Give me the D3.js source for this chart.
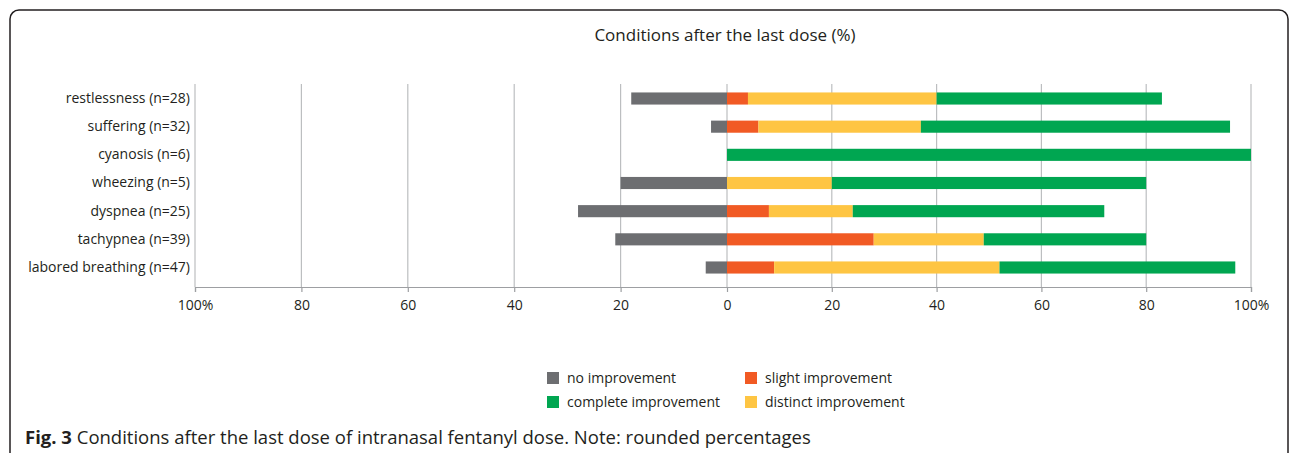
<!DOCTYPE html>
<html>
<head>
<meta charset="utf-8">
<script src="https://cdn.jsdelivr.net/npm/d3@7"></script>
<style>
  body { margin: 0; background: #fff; }
  text { font-family: "Open Sans", sans-serif; fill: #231f20; }
</style>
</head>
<body>
<svg id="chart" width="1290" height="453"></svg>
<script>
const categories = ['restlessness (n=28)', 'suffering (n=32)', 'cyanosis (n=6)', 'wheezing (n=5)',
  'dyspnea (n=25)', 'tachypnea (n=39)', 'labored breathing (n=47)'];
const noImprovement = [18, 3, 0, 20, 28, 21, 4];
const slightImprovement = [4, 6, 0, 0, 8, 28, 9];
const distinctImprovement = [36, 31, 0, 20, 16, 21, 43];
const completeImprovement = [43, 59, 100, 60, 48, 31, 45];
const tickValues = [-100, -80, -60, -40, -20, 0, 20, 40, 60, 80, 100];
const tickLabels = ['100%', '80', '60', '40', '20', '0', '20', '40', '60', '80', '100%'];

const colors = {
  no: '#6d6e71', slight: '#f15a24', distinct: '#fec543', complete: '#00a651'
};

const svg = d3.select('#chart');

// frame
svg.append('rect')
  .attr('x', 10).attr('y', 10)
  .attr('width', 1278).attr('height', 470)
  .attr('rx', 9)
  .attr('fill', 'none')
  .attr('stroke', '#231f20')
  .attr('stroke-width', 1.5);

const x = d3.scaleLinear()
  .domain([-100, 0, 100])
  .range([195, 727, 1251]);

const y = d3.scaleBand()
  .domain(categories)
  .range([84, 282])
  .paddingInner(0.57)
  .paddingOuter(0.3);

// gridlines
svg.append('g')
  .selectAll('line')
  .data(tickValues)
  .join('line')
  .attr('x1', d => x(d)).attr('x2', d => x(d))
  .attr('y1', 84).attr('y2', 287)
  .attr('stroke', '#bcbec0')
  .attr('stroke-width', 1.2);

// stacked bars
const rows = categories.map((c, i) => ({
  cat: c,
  segs: [
    {key: 'no', x0: -noImprovement[i], x1: 0},
    {key: 'slight', x0: 0, x1: slightImprovement[i]},
    {key: 'distinct', x0: slightImprovement[i], x1: slightImprovement[i] + distinctImprovement[i]},
    {key: 'complete', x0: slightImprovement[i] + distinctImprovement[i],
      x1: slightImprovement[i] + distinctImprovement[i] + completeImprovement[i]}
  ]
}));

svg.append('g')
  .selectAll('g')
  .data(rows)
  .join('g')
  .selectAll('rect')
  .data(d => d.segs.filter(s => s.x1 > s.x0).map(s => ({...s, cat: d.cat})))
  .join('rect')
  .attr('x', d => x(d.x0))
  .attr('width', d => x(d.x1) - x(d.x0))
  .attr('y', d => y(d.cat))
  .attr('height', y.bandwidth())
  .attr('fill', d => colors[d.key]);

// x axis
const xAxis = d3.axisBottom(x)
  .tickValues(tickValues)
  .tickFormat((d, i) => tickLabels[i])
  .tickSize(5)
  .tickPadding(8);

const gx = svg.append('g')
  .attr('transform', 'translate(0,287)')
  .call(xAxis);
gx.select('.domain').attr('stroke', '#9d9fa2').attr('stroke-width', 1.2);
gx.selectAll('.tick line').attr('stroke', '#9d9fa2').attr('stroke-width', 1.2);
gx.selectAll('.tick text')
  .attr('font-size', 14)
  .attr('font-family', '"Open Sans", sans-serif')
  .attr('fill', '#231f20');

// category labels
const yAxis = d3.axisLeft(y).tickSize(0).tickPadding(6);
const gy = svg.append('g')
  .attr('transform', 'translate(196,0)')
  .call(yAxis);
gy.select('.domain').remove();
gy.selectAll('.tick text')
  .attr('font-size', 14)
  .attr('font-family', '"Open Sans", sans-serif')
  .attr('fill', '#231f20');

// title
svg.append('text')
  .attr('x', 725).attr('y', 41)
  .attr('text-anchor', 'middle')
  .attr('font-size', 17)
  .text('Conditions after the last dose (%)');

// legend
const legend = [
  {key: 'no', label: 'no improvement', col: 0, row: 0},
  {key: 'slight', label: 'slight improvement', col: 1, row: 0},
  {key: 'complete', label: 'complete improvement', col: 0, row: 1},
  {key: 'distinct', label: 'distinct improvement', col: 1, row: 1}
];
const lg = svg.append('g')
  .selectAll('g')
  .data(legend)
  .join('g')
  .attr('transform', d => `translate(${547 + d.col * 198},${372 + d.row * 24})`);
lg.append('rect')
  .attr('width', 12).attr('height', 12)
  .attr('fill', d => colors[d.key]);
lg.append('text')
  .attr('x', 20).attr('y', 11)
  .attr('font-size', 14)
  .text(d => d.label);

// caption
const cap = svg.append('text')
  .attr('x', 25).attr('y', 444)
  .attr('font-size', 18.5)
  .attr('font-family', '"Open Sans", sans-serif');
cap.append('tspan').attr('font-weight', 'bold').text('Fig. 3');
cap.append('tspan').text(' Conditions after the last dose of intranasal fentanyl dose. Note: rounded percentages');
</script>
</body>
</html>
